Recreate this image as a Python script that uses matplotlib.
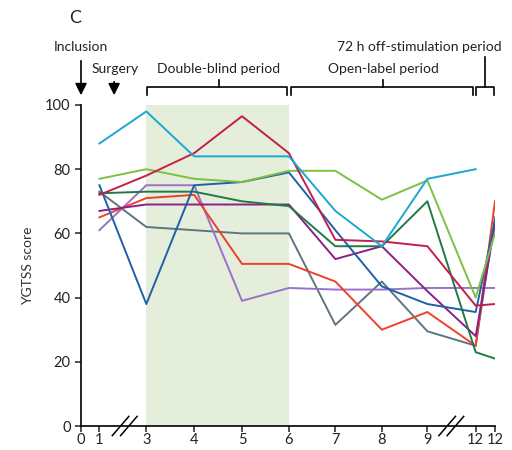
import matplotlib
matplotlib.use("Agg")
import matplotlib.pyplot as plt
import matplotlib.transforms as mtransforms
import numpy as np

plt.rcParams["font.family"] = ["Lato", "DejaVu Sans"]

# visits (the two "12" columns are on- and off-stimulation at month 12)
VISITS = ["0", "1", "3", "4", "5", "6", "7", "8", "9", "12", "12b"]
TICK_LABELS = ["0", "1", "3", "4", "5", "6", "7", "8", "9", "12", "12"]
DATA_VISITS = ["1", "3", "4", "5", "6", "7", "8", "9", "12", "12b"]

cyan = [88, 98, 84, 84, 84, 67, 56, 77, 80, np.nan]
crimson = [72, 78, 85, 96.5, 85, 58, 57.5, 56, 37.5, 38]
light_green = [77, 80, 77, 76, 79.5, 79.5, 70.5, 76.5, 40, 60]
dark_green = [72.5, 73, 73, 70, 68.5, 56, 56, 70, 23, 21]
blue = [75, 38, 75, 76, 79, 61, 43.5, 38, 35.5, 64]
orange = [65, 71, 72, 50.5, 50.5, 45, 30, 35.5, 25, 70]
magenta = [67, 69, 69, 69, 69, 52, 56, 42, 28, 63]
lavender = [61, 75, 75, 39, 43, 42.5, 42.5, 43, 43, 43]
grey = [73, 62, 61, 60, 60, 31.5, 45, 29.5, 25, 65]

SERIES = [
    (grey, "#5d7580"),
    (lavender, "#9a72c8"),
    (orange, "#f0402a"),
    (magenta, "#8a1f8a"),
    (dark_green, "#1e7b48"),
    (blue, "#2060a8"),
    (light_green, "#7cc142"),
    (crimson, "#c41e4a"),
    (cyan, "#1aa7d4"),
]

# horizontal layout of the (broken) time axis
VISIT_POS = {"0": 0.0, "1": 0.40, "3": 1.42, "4": 2.46, "5": 3.50, "6": 4.52,
             "7": 5.53, "8": 6.54, "9": 7.53, "12": 8.58, "12b": 9.0}

fig = plt.figure(figsize=(5.12, 4.5), dpi=100)
ax = fig.add_axes([81 / 512, 24 / 450, 414 / 512, 321 / 450])

xs = [VISIT_POS[v] for v in DATA_VISITS]
ax.axvspan(VISIT_POS["3"], VISIT_POS["6"], ymin=0, ymax=1, color="#e4eedb", lw=0, zorder=0)
for vals, col in SERIES:
    ax.plot(xs, vals, color=col, lw=1.4, zorder=2)

ax.set_xlim(0, 9.0)
ax.set_ylim(0, 100)
ax.set_yticks(range(0, 101, 20))
ax.set_xticks([VISIT_POS[v] for v in VISITS])
ax.set_xticklabels(TICK_LABELS)
ax.spines["top"].set_visible(False)
ax.spines["right"].set_visible(False)
for s in ("left", "bottom"):
    ax.spines[s].set_linewidth(1.2)
ax.tick_params(axis="both", labelsize=10.5, colors="#222222", width=1.1, length=4)
ax.tick_params(axis="x", pad=1)
ax.set_ylabel("YGTSS score", fontsize=10, color="#333333", labelpad=8)

# axis-break marks
trans = mtransforms.blended_transform_factory(ax.transData, ax.transAxes)
for xc in (0.95, 8.05):
    for dx in (-0.09, 0.09):
        ax.plot([xc + dx - 0.18, xc + dx + 0.18], [-0.03, 0.03], color="black",
                lw=1.1, transform=trans, clip_on=False)

def ybar(py):
    return (426 - py) / 321

def bracket(x0, x1, xm, top_y):
    kw = dict(color="black", lw=1.2, transform=trans, clip_on=False)
    ax.plot([x0, x0, x1, x1], [ybar(95), ybar(87), ybar(87), ybar(95)], **kw)
    ax.plot([xm, xm], [ybar(87), ybar(top_y)], **kw)

bracket(VISIT_POS["3"] + 0.02, VISIT_POS["6"] - 0.04, 3.0, 80)
bracket(VISIT_POS["6"] + 0.04, VISIT_POS["12"] - 0.05, 6.57, 80)
bracket(VISIT_POS["12"] + 0.01, VISIT_POS["12b"] - 0.02, 8.79, 57)

txt = dict(transform=trans, fontsize=10, color="#222222", ha="center", va="center")
ax.text(3.0, ybar(69), "Double-blind period", **txt)
ax.text(6.57, ybar(69), "Open-label period", **txt)
ax.text(9.15, ybar(47), "72 h off-stimulation period", **dict(txt, ha="right"))
ax.text(0.0, ybar(47), "Inclusion", **txt)
ax.text(0.74, ybar(69), "Surgery", **txt)
ax.text(-0.12, ybar(18), "C", transform=trans, fontsize=13, color="#222222", ha="center", va="center")

arrow = dict(arrowstyle="-|>,head_length=0.7,head_width=0.35", color="black", lw=1.2)
ax.annotate("", xy=(0.0, ybar(98)), xytext=(0.0, ybar(58)), xycoords=trans,
            textcoords=trans, arrowprops=arrow, annotation_clip=False)
ax.annotate("", xy=(0.72, ybar(98)), xytext=(0.72, ybar(79)), xycoords=trans,
            textcoords=trans, arrowprops=arrow, annotation_clip=False)

fig.savefig("out.png", dpi=100)
